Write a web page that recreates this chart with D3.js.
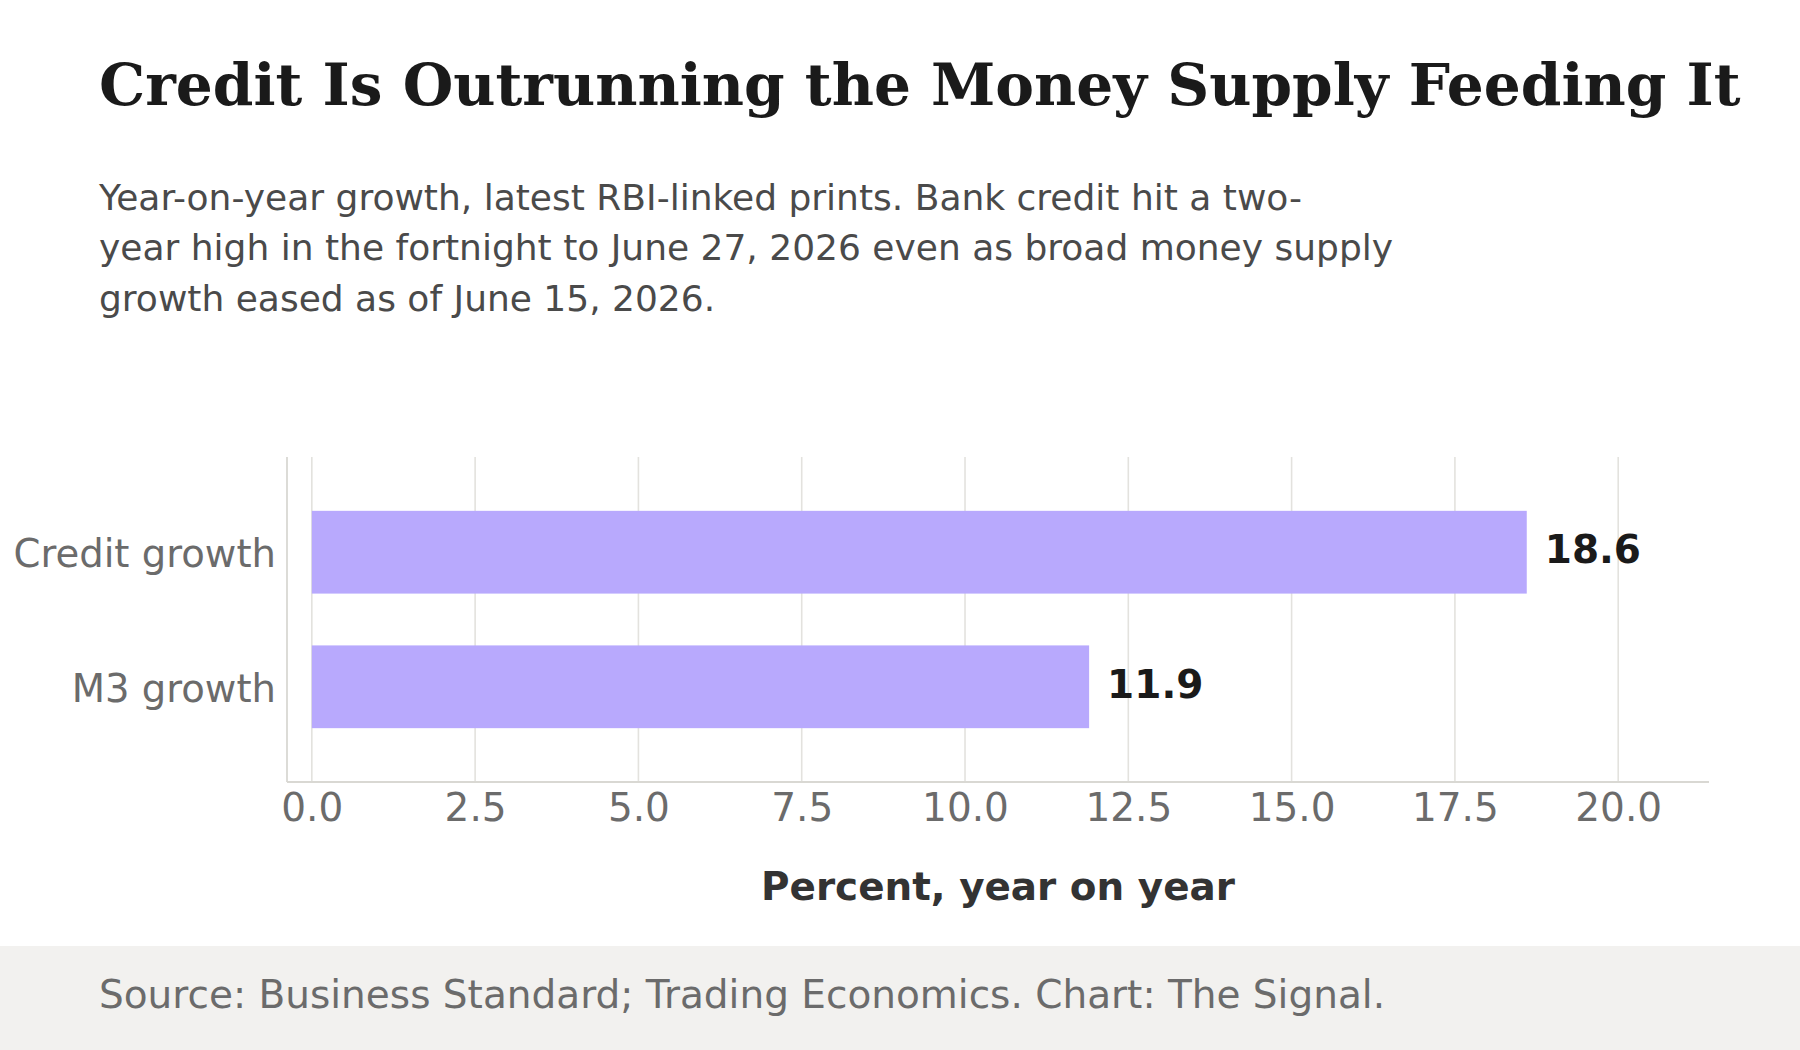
<!DOCTYPE html>
<html>
<head>
<meta charset="utf-8">
<script src="https://cdn.jsdelivr.net/npm/d3@7"></script>
<style>
  html, body { margin: 0; padding: 0; background: #ffffff; }
  svg { display: block; }
</style>
</head>
<body>
<svg id="chart" width="1800" height="1050"></svg>
<script>
const categories = ["Credit growth", "M3 growth"];
const values = [18.6, 11.9];
const valueLabels = ["18.6", "11.9"];
const xTicks = [0, 2.5, 5, 7.5, 10, 12.5, 15, 17.5, 20];
const xTickLabels = ["0.0", "2.5", "5.0", "7.5", "10.0", "12.5", "15.0", "17.5", "20.0"];
const titleText = "Credit Is Outrunning the Money Supply Feeding It";
const subtitleLines = [
  "Year-on-year growth, latest RBI-linked prints. Bank credit hit a two-",
  "year high in the fortnight to June 27, 2026 even as broad money supply",
  "growth eased as of June 15, 2026."
];
const xAxisTitle = "Percent, year on year";
const sourceText = "Source: Business Standard; Trading Economics. Chart: The Signal.";

const svg = d3.select("#chart");
const W = 1800, H = 1050;
const sans = "'DejaVu Sans', Verdana, sans-serif";
const serif = "'DejaVu Serif', Georgia, serif";

svg.append("rect").attr("x", 0).attr("y", 0).attr("width", W).attr("height", H).attr("fill", "#ffffff");

// Title
svg.append("text")
  .attr("x", 99).attr("y", 105)
  .attr("font-family", serif).attr("font-weight", "bold")
  .attr("font-size", 58.1).attr("fill", "#1a1a1a")
  .text(titleText);

// Subtitle
svg.append("g").selectAll("text").data(subtitleLines).join("text")
  .attr("x", 99).attr("y", (d, i) => 209.5 + i * 50.5)
  .attr("font-family", sans).attr("font-size", 36).attr("fill", "#4a4a4a")
  .text(d => d);

// Plot area
const plot = { left: 287, right: 1709, top: 457, bottom: 782 };

const x = d3.scaleLinear().domain([-0.38, 21.39]).range([plot.left, plot.right]);
const y = d3.scaleBand().domain(categories).range([plot.top, plot.bottom])
  .paddingInner(0.385).paddingOuter(0.4);

// Gridlines
svg.append("g").selectAll("line").data(xTicks).join("line")
  .attr("x1", d => x(d)).attr("x2", d => x(d))
  .attr("y1", plot.top).attr("y2", plot.bottom)
  .attr("stroke", "#e3e2de").attr("stroke-width", 1.6);

// Bars
svg.append("g").selectAll("rect").data(values).join("rect")
  .attr("x", x(0))
  .attr("y", (d, i) => y(categories[i]))
  .attr("width", d => x(d) - x(0))
  .attr("height", y.bandwidth())
  .attr("fill", "#b8a9fd");

// Value labels
svg.append("g").selectAll("text").data(values).join("text")
  .attr("x", d => x(d) + 18)
  .attr("y", (d, i) => y(categories[i]) + y.bandwidth() / 2 + 11)
  .attr("font-family", sans).attr("font-weight", "bold")
  .attr("font-size", 39).attr("fill", "#1a1a1a")
  .text((d, i) => valueLabels[i]);

// Left spine
svg.append("line")
  .attr("x1", plot.left).attr("x2", plot.left)
  .attr("y1", plot.top).attr("y2", plot.bottom)
  .attr("stroke", "#d9d8d3").attr("stroke-width", 1.8);

// X axis
const xAxis = d3.axisBottom(x).tickValues(xTicks)
  .tickFormat((d, i) => xTickLabels[i]).tickSize(0).tickPadding(11);
const gx = svg.append("g").attr("transform", `translate(0,${plot.bottom})`).call(xAxis);
gx.select(".domain").attr("d", `M${plot.left},0H${plot.right}`)
  .attr("stroke", "#d9d8d3").attr("stroke-width", 1.8);
gx.selectAll("text").attr("font-family", sans).attr("font-size", 39)
  .attr("fill", "#6b6b6b").attr("dy", "0.71em");

// Y axis labels
const yAxis = d3.axisLeft(y).tickSize(0).tickPadding(11);
const gy = svg.append("g").attr("transform", `translate(${plot.left},0)`).call(yAxis);
gy.select(".domain").remove();
gy.selectAll("text").attr("font-family", sans).attr("font-size", 38.6)
  .attr("fill", "#6b6b6b").attr("dy", "0.39em");

// X axis title
svg.append("text")
  .attr("x", (plot.left + plot.right) / 2).attr("y", 900)
  .attr("text-anchor", "middle")
  .attr("font-family", sans).attr("font-weight", "bold")
  .attr("font-size", 38.9).attr("fill", "#333333")
  .text(xAxisTitle);

// Footer
svg.append("rect").attr("x", 0).attr("y", 946).attr("width", W).attr("height", H - 946)
  .attr("fill", "#f2f1ef");
svg.append("text")
  .attr("x", 99).attr("y", 1008)
  .attr("font-family", sans).attr("font-size", 39).attr("fill", "#6b6b6b")
  .text(sourceText);
</script>
</body>
</html>
